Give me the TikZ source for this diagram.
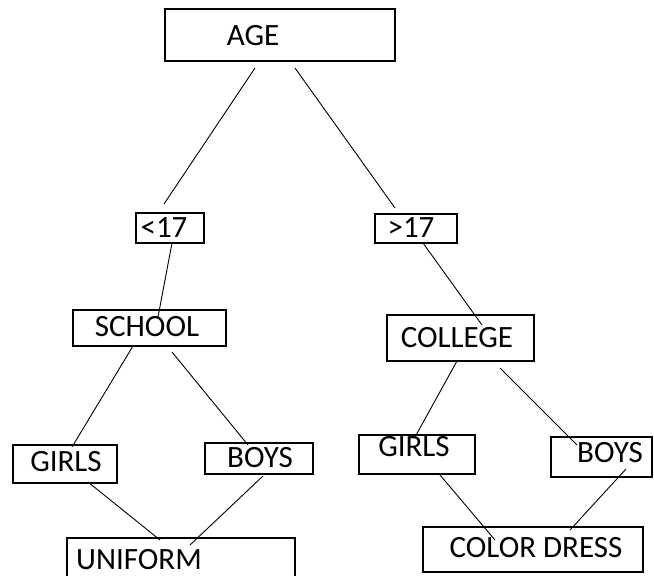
\documentclass[tikz,border=0pt]{standalone}
\usepackage{fontspec}
\setmainfont{Carlito}
\usepackage{tikz}
\usetikzlibrary{calc}

\tikzset{
  box/.style={draw, line width=1.3pt, inner sep=0pt, outer sep=0pt},
  txt/.style={inner sep=0pt, anchor=center, font=\fontsize{31}{32}\selectfont},
  link/.style={line width=0.9pt}
}

\begin{document}
\begin{tikzpicture}[x=1pt,y=1pt,yscale=-1,xscale=1]
    \clip (0,0) rectangle (654,576);

    %Shape: Rectangle [id:age]
    \node[box, minimum width=230pt, minimum height=52pt] (age) at (280,35) {};
    %Shape: Rectangle [id:lt]
    \node[box, minimum width=68pt, minimum height=30pt] (lt) at (170,228) {};
    %Shape: Rectangle [id:gt]
    \node[box, minimum width=82pt, minimum height=29pt] (gt) at (416,228.5) {};
    %Shape: Rectangle [id:school]
    \node[box, minimum width=153pt, minimum height=36pt] (school) at (149.5,328) {};
    %Shape: Rectangle [id:college]
    \node[box, minimum width=147pt, minimum height=46pt] (college) at (460.5,338) {};
    %Shape: Rectangle [id:girlsL]
    \node[box, minimum width=104pt, minimum height=38pt] (girlsL) at (65,464) {};
    %Shape: Rectangle [id:boysL]
    \node[box, minimum width=108pt, minimum height=31pt] (boysL) at (259,458.5) {};
    %Shape: Rectangle [id:girlsR]
    \node[box, minimum width=116pt, minimum height=39pt] (girlsR) at (417,454.5) {};
    %Shape: Rectangle [id:boysR]
    \node[box, minimum width=101pt, minimum height=40pt] (boysR) at (601.5,457) {};
    %Shape: Rectangle [id:uniform]
    \node[box, minimum width=228pt, minimum height=52pt] (uniform) at (181,564) {};
    %Shape: Rectangle [id:dress]
    \node[box, minimum width=220pt, minimum height=45pt] (dress) at (533,549.5) {};

    %Straight Lines [id:age-lt]
    \draw[link] ($(age.south west)+(90,7)$) -- ($(lt.north west)+(28,-9)$);
    %Straight Lines [id:age-gt]
    \draw[link] ($(age.south west)+(130,7)$) -- ($(gt.north west)+(20,-6)$);
    %Straight Lines [id:lt-school]
    \draw[link] ($(lt.south west)+(36,0)$) -- ($(school.north west)+(85,7)$);
    %Straight Lines [id:gt-college]
    \draw[link] ($(gt.south west)+(48,0)$) -- ($(college.north west)+(95,10)$);
    %Straight Lines [id:school-girlsL]
    \draw[link] ($(school.south west)+(60,0)$) -- ($(girlsL.north west)+(59,2)$);
    %Straight Lines [id:school-boysL]
    \draw[link] ($(school.south west)+(99,6)$) -- ($(boysL.north west)+(43,2)$);
    %Straight Lines [id:college-girlsR]
    \draw[link] ($(college.south west)+(70,0)$) -- ($(girlsR.north west)+(56,2)$);
    %Straight Lines [id:college-boysR]
    \draw[link] ($(college.south west)+(113,7)$) -- ($(boysR.north west)+(26,8)$);
    %Straight Lines [id:girlsL-uniform]
    \draw[link] ($(girlsL.south west)+(75,-1)$) -- ($(uniform.north west)+(93,2)$);
    %Straight Lines [id:boysL-uniform]
    \draw[link] ($(boysL.south west)+(58,2)$) -- ($(uniform.north west)+(123,7)$);
    %Straight Lines [id:girlsR-dress]
    \draw[link] ($(girlsR.south west)+(81,1)$) -- ($(dress.north west)+(72,13)$);
    %Straight Lines [id:boysR-dress]
    \draw[link] ($(boysR.south west)+(75,-8)$) -- ($(dress.north west)+(147,3)$);

    % Text Node
    \node[txt] (age-t) at (253,36) {AGE};
    % Text Node
    \node[txt] (lt-t) at (164,228) {<17};
    % Text Node
    \node[txt] (gt-t) at (411,228) {>17};
    % Text Node
    \node[txt] (school-t) at (147,327) {SCHOOL};
    % Text Node
    \node[txt] (college-t) at (457,338) {COLLEGE};
    % Text Node
    \node[txt] (girlsL-t) at (66,462) {GIRLS};
    % Text Node
    \node[txt] (boysL-t) at (260,458) {BOYS};
    % Text Node
    \node[txt] (girlsR-t) at (414,447) {GIRLS};
    % Text Node
    \node[txt] (boysR-t) at (610,453) {BOYS};
    % Text Node
    \node[txt] (uniform-t) at (139,560) {UNIFORM};
    % Text Node
    \node[txt] (dress-t) at (536,548) {COLOR DRESS};
\end{tikzpicture}
\end{document}
